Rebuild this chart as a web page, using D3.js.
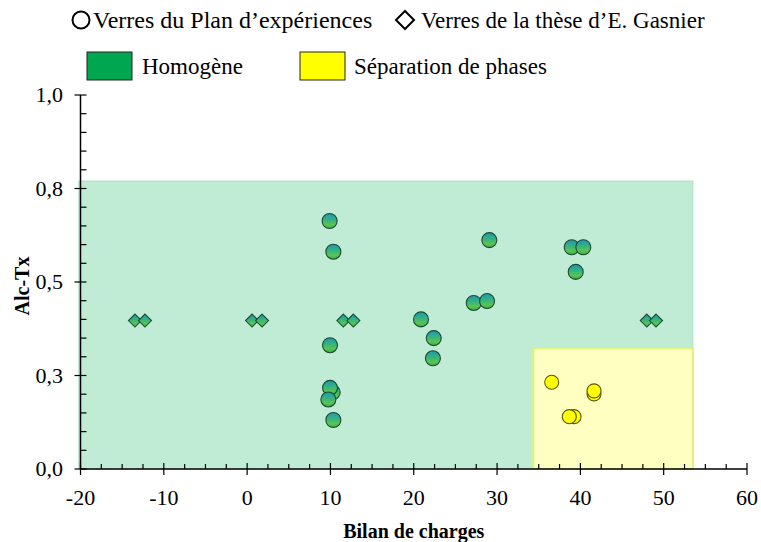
<!DOCTYPE html>
<html>
<head>
<meta charset="utf-8">
<script src="https://cdn.jsdelivr.net/npm/d3@7"></script>
<style>
  html, body { margin: 0; padding: 0; background: #fff; }
  svg { display: block; }
</style>
</head>
<body>
<svg id="chart" width="761" height="542"></svg>
<script>
// ---------- Data ----------
const planX = [9.9, 10.35, 29.07, 27.2, 28.8, 20.87, 22.4, 22.3, 9.95, 10.27, 9.95, 9.75, 10.35, 38.96, 40.35, 39.44];
const planY = [0.663, 0.581, 0.612, 0.444, 0.449, 0.400, 0.350, 0.296, 0.331, 0.205, 0.217, 0.186, 0.131, 0.593, 0.593, 0.527];
const sepX = [36.56, 41.64, 41.64, 39.24, 38.67];
const sepY = [0.232, 0.201, 0.209, 0.140, 0.140];
const gasnierX = [-13.46, -12.26, 0.59, 1.79, 11.55, 12.75, 47.97, 49.08];
const gasnierY = [0.397, 0.397, 0.397, 0.397, 0.397, 0.397, 0.397, 0.397];
const homogeneZone = [-20.2, 53.5, 0, 0.77];     // x0, x1, y0, y1
const separationZone = [34.35, 53.5, 0, 0.323];
const xTicks = [-20, -10, 0, 10, 20, 30, 40, 50, 60];
const yTicks = [0, 0.25, 0.5, 0.75, 1.0];
const yTickLabels = ["0,0", "0,3", "0,5", "0,8", "1,0"];
const legendSeries = ["Verres du Plan d\u2019exp\u00e9riences", "Verres de la th\u00e8se d\u2019E. Gasnier"];
const legendZones = ["Homog\u00e8ne", "S\u00e9paration de phases"];
const xTitle = "Bilan de charges";
const yTitle = "Alc-Tx";

const FONT = '"Liberation Serif"';

// ---------- Setup ----------
const svg = d3.select("#chart");
const x = d3.scaleLinear().domain([-20, 60]).range([80.5, 747]);
const y = d3.scaleLinear().domain([0, 1]).range([469, 95]);

const defs = svg.append("defs");
const g1 = defs.append("linearGradient").attr("id", "gradGreen")
  .attr("x1", 0).attr("y1", 0).attr("x2", 0).attr("y2", 1);
g1.append("stop").attr("offset", "0%").attr("stop-color", "#1c98b8");
g1.append("stop").attr("offset", "45%").attr("stop-color", "#38b47a");
g1.append("stop").attr("offset", "75%").attr("stop-color", "#58c652");
g1.append("stop").attr("offset", "100%").attr("stop-color", "#3aa844");

// ---------- Zones ----------
svg.append("rect")
  .attr("x", x(homogeneZone[0])).attr("y", y(homogeneZone[3]))
  .attr("width", x(homogeneZone[1]) - x(homogeneZone[0]))
  .attr("height", y(homogeneZone[2]) - y(homogeneZone[3]))
  .attr("fill", "#c0ebd4").attr("stroke", "#aee2c4").attr("stroke-width", 1);

svg.append("rect")
  .attr("x", x(separationZone[0])).attr("y", y(separationZone[3]))
  .attr("width", x(separationZone[1]) - x(separationZone[0]))
  .attr("height", y(separationZone[2]) - y(separationZone[3]))
  .attr("fill", "#ffffc2").attr("stroke", "#dcf27a").attr("stroke-width", 2);

// ---------- Axes ----------
const axisG = svg.append("g");
axisG.append("line").attr("x1", x(-20)).attr("x2", x(60)).attr("y1", y(0)).attr("y2", y(0))
  .attr("stroke", "#000").attr("stroke-width", 1.5);
axisG.append("line").attr("x1", x(-20)).attr("x2", x(-20)).attr("y1", y(0)).attr("y2", y(1))
  .attr("stroke", "#000").attr("stroke-width", 1.5);

axisG.selectAll(".xmaj").data(xTicks).enter().append("line")
  .attr("x1", d => x(d)).attr("x2", d => x(d))
  .attr("y1", y(0) - 6).attr("y2", y(0) + 6)
  .attr("stroke", "#000").attr("stroke-width", 1.2);
const xMinor = d3.range(-20, 60.01, 2.5).filter(v => Math.abs(v % 10) > 0.01);
axisG.selectAll(".xmin").data(xMinor).enter().append("line")
  .attr("x1", d => x(d)).attr("x2", d => x(d))
  .attr("y1", y(0) - 5).attr("y2", y(0))
  .attr("stroke", "#000").attr("stroke-width", 1.2);
axisG.selectAll(".xlab").data(xTicks).enter().append("text")
  .attr("x", d => x(d)).attr("y", 505)
  .attr("text-anchor", "middle").attr("font-size", 22)
  .style("font-family", FONT)
  .text(d => d);

axisG.selectAll(".ymaj").data(yTicks).enter().append("line")
  .attr("x1", x(-20) - 6).attr("x2", x(-20) + 6)
  .attr("y1", d => y(d)).attr("y2", d => y(d))
  .attr("stroke", "#000").attr("stroke-width", 1.2);
const yMinor = d3.range(0, 1.0001, 0.05).filter(v => Math.abs((v / 0.25) - Math.round(v / 0.25)) > 0.01);
axisG.selectAll(".ymin").data(yMinor).enter().append("line")
  .attr("x1", x(-20)).attr("x2", x(-20) + 6)
  .attr("y1", d => y(d)).attr("y2", d => y(d))
  .attr("stroke", "#000").attr("stroke-width", 1.2);
axisG.selectAll(".ylab").data(yTicks).enter().append("text")
  .attr("x", 63).attr("y", d => y(d) + 7)
  .attr("text-anchor", "end").attr("font-size", 22)
  .style("font-family", FONT)
  .text((d, i) => yTickLabels[i]);

svg.append("text").attr("x", (x(-20) + x(60)) / 2).attr("y", 538)
  .attr("text-anchor", "middle").attr("font-size", 20).attr("font-weight", "bold")
  .style("font-family", FONT)
  .text(xTitle);
svg.append("text").attr("transform", `translate(29, ${y(0.5) + 4}) rotate(-90)`)
  .attr("text-anchor", "middle").attr("font-size", 20).attr("font-weight", "bold")
  .style("font-family", FONT)
  .text(yTitle);

// ---------- Points ----------
const planData = planX.map((v, i) => ({ x: v, y: planY[i] }));
const sepData = sepX.map((v, i) => ({ x: v, y: sepY[i] }));
const gasData = gasnierX.map((v, i) => ({ x: v, y: gasnierY[i] }));

const diamond = (cx, cy, r) => `M${cx},${cy - r}L${cx + r},${cy}L${cx},${cy + r}L${cx - r},${cy}Z`;

svg.append("g").selectAll("path").data(gasData).enter().append("path")
  .attr("d", d => diamond(x(d.x), y(d.y), 6.5))
  .attr("fill", "url(#gradGreen)").attr("stroke", "#1d4a34").attr("stroke-width", 1.1);

svg.append("g").selectAll("circle").data(planData).enter().append("circle")
  .attr("cx", d => x(d.x)).attr("cy", d => y(d.y)).attr("r", 7.5)
  .attr("fill", "url(#gradGreen)").attr("stroke", "#1d4a34").attr("stroke-width", 1.1);

svg.append("g").selectAll("circle").data(sepData).enter().append("circle")
  .attr("cx", d => x(d.x)).attr("cy", d => y(d.y)).attr("r", 7)
  .attr("fill", "#ffff00").attr("stroke", "#5a5a10").attr("stroke-width", 1.1);

// ---------- Legend ----------
const leg = svg.append("g");
leg.append("circle").attr("cx", 81).attr("cy", 20).attr("r", 8.5)
  .attr("fill", "#fff").attr("stroke", "#000").attr("stroke-width", 2);
leg.append("text").attr("x", 93).attr("y", 28).attr("font-size", 24)
  .style("font-family", FONT).text(legendSeries[0]);
leg.append("path").attr("d", diamond(405, 20, 9))
  .attr("fill", "#fff").attr("stroke", "#000").attr("stroke-width", 2);
leg.append("text").attr("x", 421).attr("y", 28).attr("font-size", 23)
  .style("font-family", FONT).text(legendSeries[1]);

leg.append("rect").attr("x", 87).attr("y", 52).attr("width", 45).attr("height", 28)
  .attr("fill", "#00a650").attr("stroke", "#222").attr("stroke-width", 1);
leg.append("text").attr("x", 142).attr("y", 74).attr("font-size", 23)
  .style("font-family", FONT).text(legendZones[0]);
leg.append("rect").attr("x", 300).attr("y", 52).attr("width", 45).attr("height", 28)
  .attr("fill", "#ffff00").attr("stroke", "#222").attr("stroke-width", 1);
leg.append("text").attr("x", 354).attr("y", 74).attr("font-size", 23)
  .style("font-family", FONT).text(legendZones[1]);
</script>
</body>
</html>
